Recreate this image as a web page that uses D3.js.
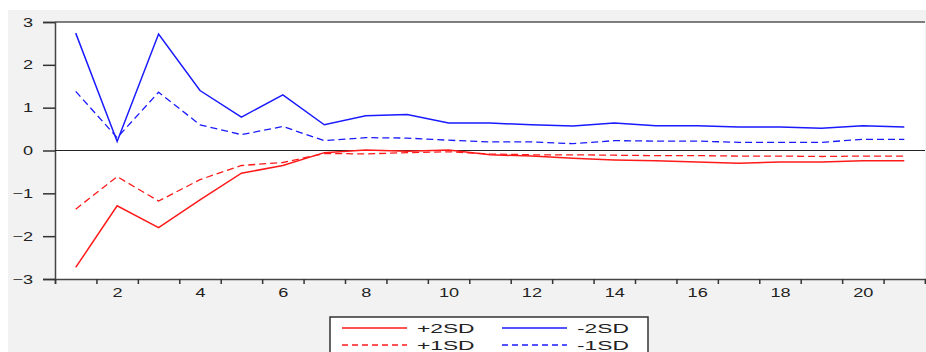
<!DOCTYPE html>
<meta charset="utf-8">
<style>
body { margin: 0; background: #fff; }
.tick text { font-family: "Liberation Sans", Arial, sans-serif; font-size: 12.5px; fill: #222; }
.legend text { font-family: "Liberation Sans", Arial, sans-serif; font-size: 13px; fill: #222; }
</style>
<body>
<div id="chart"></div>
<script src="https://d3js.org/d3.v7.min.js"></script>
<script>

var width = 926,
    height = 352;

// periods 1..21
var periods = d3.range(1, 22);

// response bands
var plus2SD  = [-2.73, -1.29, -1.80, -1.15, -0.53, -0.35, -0.05, 0.01, -0.02, 0.01, -0.10, -0.13, -0.18, -0.22, -0.24, -0.27, -0.30, -0.27, -0.27, -0.24, -0.24];
var plus1SD  = [-1.37, -0.61, -1.18, -0.68, -0.35, -0.28, -0.07, -0.08, -0.05, -0.03, -0.08, -0.10, -0.10, -0.11, -0.12, -0.12, -0.13, -0.13, -0.14, -0.13, -0.13];
var minus2SD = [2.74, 0.21, 2.72, 1.40, 0.78, 1.30, 0.60, 0.81, 0.84, 0.64, 0.64, 0.60, 0.57, 0.64, 0.58, 0.58, 0.55, 0.55, 0.52, 0.58, 0.55];
var minus1SD = [1.38, 0.30, 1.36, 0.60, 0.37, 0.56, 0.23, 0.30, 0.29, 0.24, 0.20, 0.20, 0.16, 0.23, 0.22, 0.22, 0.19, 0.19, 0.19, 0.26, 0.26];

var yTicks = [-3, -2, -1, 0, 1, 2, 3];
var xLabels = [2, 4, 6, 8, 10, 12, 14, 16, 18, 20];

var series = [
  {name: "+2SD", values: plus2SD,  color: "#ff1a1a", dash: null},
  {name: "-2SD", values: minus2SD, color: "#1a1aff", dash: null},
  {name: "+1SD", values: plus1SD,  color: "#ff1a1a", dash: "7,4"},
  {name: "-1SD", values: minus1SD, color: "#1a1aff", dash: "7,4"}
];

var margin = {left: 55, right: 1, top: 22, bottom: 73};

var x = d3.scaleLinear()
    .domain([0.5, 21.5])
    .range([margin.left, width - margin.right]);

var y = d3.scaleLinear()
    .domain([-3, 3])
    .range([height - margin.bottom, margin.top]);

var svg = d3.select("#chart").append("svg")
    .attr("width", width)
    .attr("height", height);

// grey panel behind everything, plot area white
svg.append("rect")
    .attr("x", 8).attr("y", 10)
    .attr("width", width - 8).attr("height", height - 10)
    .attr("fill", "#f2f2f2");

svg.append("rect")
    .attr("x", x(0.5)).attr("y", y(3))
    .attr("width", x(21.5) - x(0.5)).attr("height", y(-3) - y(3))
    .attr("fill", "#fff");

// y axis
svg.append("g")
    .attr("transform", "translate(" + x(0.5) + ",0)")
    .call(d3.axisLeft(y).tickValues(yTicks).tickSize(12).tickPadding(10).tickFormat(d3.format("d")));

// x axis: ticks between periods, labels on even periods
svg.append("g")
    .attr("transform", "translate(0," + y(-3) + ")")
    .call(d3.axisBottom(x).tickValues(d3.range(0.5, 22, 1)).tickSize(5).tickFormat(""));

svg.append("g")
    .attr("transform", "translate(0," + y(-3) + ")")
    .call(d3.axisBottom(x).tickValues(xLabels).tickSize(0).tickPadding(9).tickFormat(d3.format("d")))
    .select(".domain").remove();

svg.selectAll(".domain").attr("stroke", "#444").attr("stroke-width", 1.5);
svg.selectAll(".tick line").attr("stroke", "#333").attr("stroke-width", 1.5);

// the original text is stretched sideways
function stretch(sel, k) {
  sel.each(function() {
    var w = this.getComputedTextLength();
    d3.select(this).attr("textLength", w * k).attr("lengthAdjust", "spacingAndGlyphs");
  });
}
stretch(svg.selectAll(".tick text"), 1.45);

// top frame
svg.append("line")
    .attr("x1", x(0.5)).attr("x2", x(21.5))
    .attr("y1", y(3)).attr("y2", y(3))
    .attr("stroke", "#555").attr("stroke-width", 1.5);

// zero line
svg.append("line")
    .attr("x1", x(0.5)).attr("x2", x(21.5))
    .attr("y1", y(0)).attr("y2", y(0))
    .attr("stroke", "#222").attr("stroke-width", 1);

var line = d3.line()
    .x(function(d, i) { return x(periods[i]); })
    .y(function(d) { return y(d); });

svg.selectAll(".series")
    .data(series)
    .enter()
    .append("path")
    .attr("class", "series")
    .attr("d", function(d) { return line(d.values); })
    .attr("fill", "none")
    .attr("stroke", function(d) { return d.color; })
    .attr("stroke-width", function(d) { return d.dash ? 1.3 : 1.5; })
    .attr("stroke-dasharray", function(d) { return d.dash; });

// legend
var legend = svg.append("g").attr("class", "legend");

legend.append("rect")
    .attr("x", 330).attr("y", 317)
    .attr("width", 318).attr("height", 50)
    .attr("fill", "#fff")
    .attr("stroke", "#333").attr("stroke-width", 1.5);

var legItems = legend.selectAll(".item")
    .data(series)
    .enter()
    .append("g")
    .attr("class", "item")
    .attr("transform", function(d, i) {
      return "translate(" + (342 + (i % 2) * 160) + "," + (328 + Math.floor(i / 2) * 17) + ")";
    });

legItems.append("line")
    .attr("x1", 0).attr("x2", 65)
    .attr("stroke", function(d) { return d.color; })
    .attr("stroke-width", 1.3)
    .attr("stroke-dasharray", function(d) { return d.dash ? "6,4" : null; });

legItems.append("text")
    .attr("x", 75)
    .attr("dy", "0.36em")
    .text(function(d) { return d.name; });

stretch(legend.selectAll("text"), 1.75);

</script>
</body>
